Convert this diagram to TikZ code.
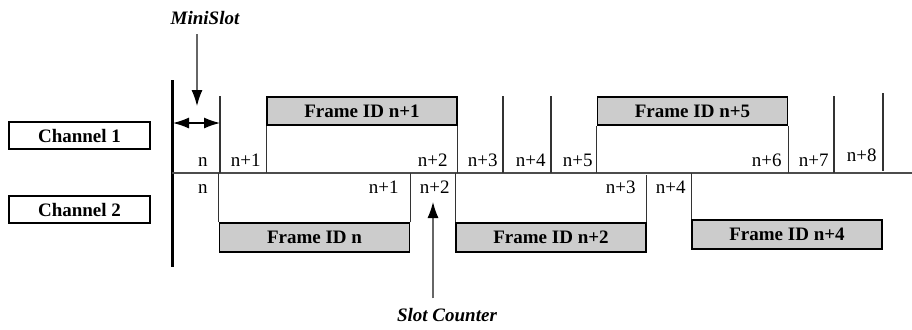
\documentclass[tikz,border=0pt]{standalone}
\usepackage{fontspec}
\setmainfont{Liberation Serif}
\usetikzlibrary{arrows.meta}

\begin{document}
\begin{tikzpicture}
[x=0.5pt,y=-0.5pt,%
  frame/.style={shape=rectangle,draw,line width=0.8pt,fill=gray!40,inner sep=0pt,
    minimum width=95pt,minimum height=14.25pt,font=\bfseries},
  chan/.style={shape=rectangle,draw,line width=0.6pt,inner sep=0pt,
    minimum width=70.5pt,minimum height=13.5pt,font=\bfseries},
  slot/.style={inner sep=0pt,anchor=base east},
  tick/.style={draw=black!80,line width=0.6pt},
  callout/.style={inner sep=0pt,anchor=base,font=\bfseries\itshape},
  pointer/.style={draw=black!60,line width=0.6pt,-{Latex[black,length=8pt,width=5.5pt]}}]
\fontsize{9.5}{11}\selectfont
\useasboundingbox (0,0) rectangle (912,329);

% channels
\node[chan] (ch1) at (79.5,135.5) {Channel 1};
\node[chan] (ch2) at (79.5,209.5) {Channel 2};

% time axis
\coordinate (base) at (172,173);
\coordinate (baseend) at (912,173);
\draw[line width=1.5pt] (172,80) -- (172,267);
\draw[draw=black!70,line width=0.6pt] (base) -- (baseend);

% frames on channel 1
\node[frame] (f1) at (362,111) {Frame ID n+1};
\node[frame] (f5) at (692.5,111) {Frame ID n+5};
\draw[tick] (f1.south west) -- (f1.south west |- base);
\draw[tick] (f1.south east) -- (f1.south east |- base);
\draw[tick] (f5.south west) -- (f5.south west |- base);
\draw[tick] (f5.south east) -- (f5.south east |- base);
\foreach \x in {220,503,551,834}
  \draw[tick] (\x,96) -- (\x,173);
\draw[tick] (883,93) -- (883,171);

% frames on channel 2
\node[frame] (f0) at (314.5,237.5) {Frame ID n};
\node[frame] (f2) at (551,237.5) {Frame ID n+2};
\node[frame] (f4) at (787,234.5) {Frame ID n+4};
\draw[tick] (f0.north west) -- (f0.north west |- base);
\draw[tick] (f0.north east) -- (f0.north east |- base);
\draw[tick] (f2.north west) -- (f2.north west |- base);
\draw[tick] (f2.north east) -- ++(0,-47);
\draw[tick] (f4.north west) -- (f4.north west |- base);

% slot counters
\node[slot] (a0) at (208,166) {n};
\node[slot] (a1) at (261,166) {n+1};
\node[slot] (a2) at (448,166) {n+2};
\node[slot] (a3) at (498,166) {n+3};
\node[slot] (a4) at (546,166) {n+4};
\node[slot] (a5) at (593,166) {n+5};
\node[slot] (a6) at (782,166) {n+6};
\node[slot] (a7) at (829,166) {n+7};
\node[slot] (a8) at (877,161) {n+8};
\node[slot] (b0) at (208,193) {n};
\node[slot] (b1) at (399,193) {n+1};
\node[slot] (b2) at (450,193) {n+2};
\node[slot] (b3) at (636,193) {n+3};
\node[slot] (b4) at (686,193) {n+4};

% callouts
\node[callout] (mini) at (205,24) {MiniSlot};
\coordinate (miniTop) at (197,34);
\coordinate (miniTip) at (197,106);
\draw[pointer] (miniTop) -- (miniTip);
\coordinate (msL) at (173,123);
\coordinate (msR) at (220,123);
\draw[line width=0.6pt,{Latex[length=8pt,width=5.5pt]}-{Latex[length=8pt,width=5.5pt]}] (msL) -- (msR);
\node[callout] (counter) at (447,321) {Slot Counter};
\coordinate (cntTip) at (433,202);
\draw[pointer] (counter.north -| cntTip) ++(0,-9) -- (cntTip);
\end{tikzpicture}
\end{document}
